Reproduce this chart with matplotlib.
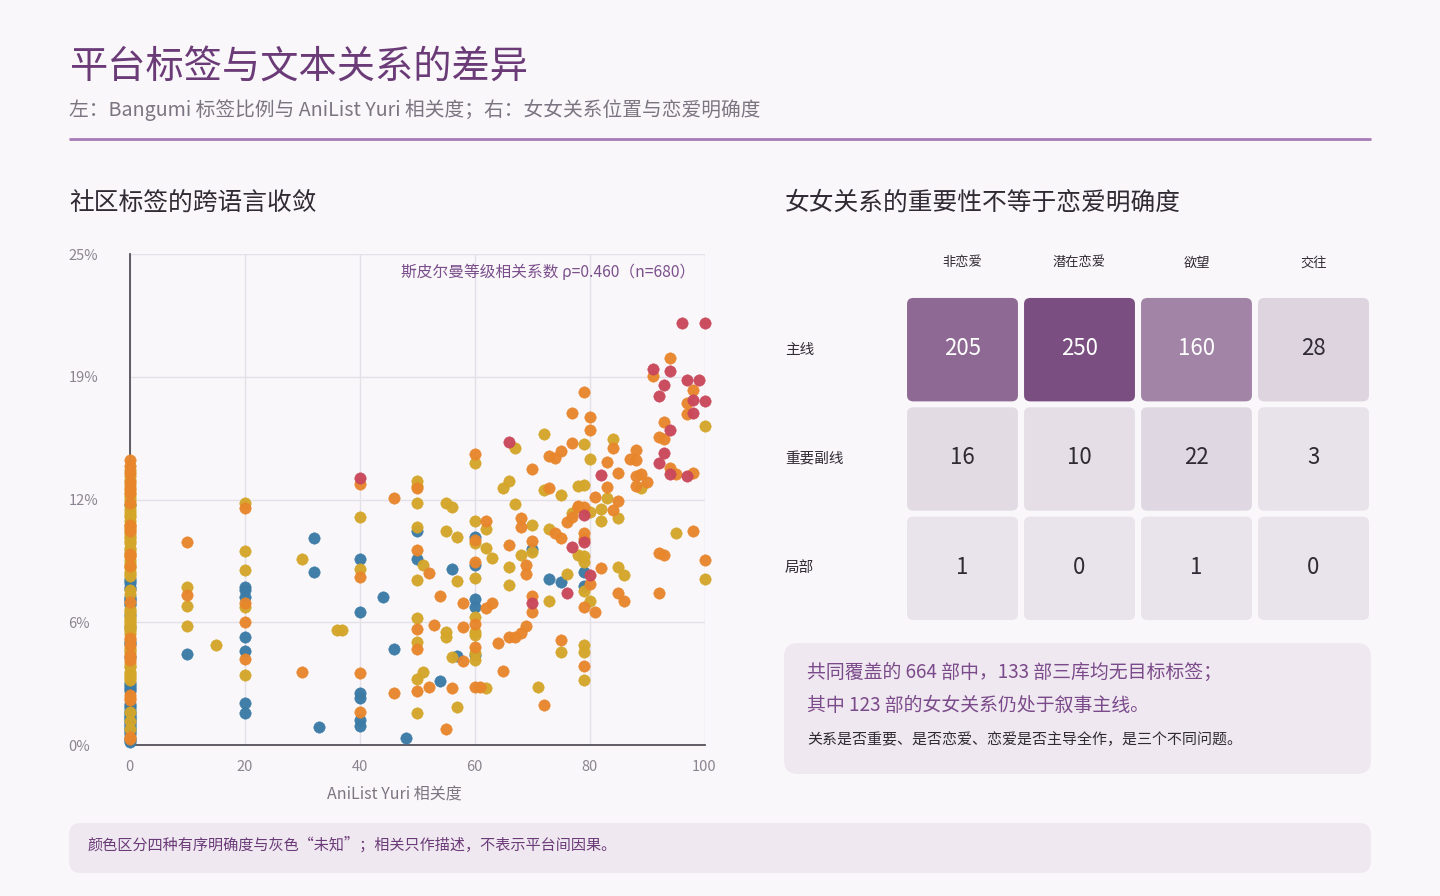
import numpy as np
import matplotlib
matplotlib.use("Agg")
import matplotlib.pyplot as plt
from matplotlib.patches import FancyBboxPatch
from matplotlib.colors import LinearSegmentedColormap, Normalize

plt.rcParams['font.family'] = ['Noto Sans CJK SC', 'DejaVu Sans']

# ---------------- data ----------------
title = "平台标签与文本关系的差异"
subtitle = "左：Bangumi 标签比例与 AniList Yuri 相关度；右：女女关系位置与恋爱明确度"
left_title = "社区标签的跨语言收敛"
right_title = "女女关系的重要性不等于恋爱明确度"
corr_text = "斯皮尔曼等级相关系数 ρ=0.460（n=680）"
x_label = "AniList Yuri 相关度"
x_ticks = [0, 20, 40, 60, 80, 100]
y_ticks = [0, 6.25, 12.5, 18.75, 25]
y_tick_labels = ["0%", "6%", "12%", "19%", "25%"]

# works with AniList relevance 0: Bangumi tag share % per clarity category
blue_zero_y = [12.2, 8.45, 8.35, 8.25, 8.05, 7.95, 7.55, 7.45, 7.4, 7.25, 7.15, 6.6, 6.0, 5.25,
               5.15, 4.5, 3.15, 3.05, 2.95, 2.85, 2.75, 2.1, 2.0, 1.9, 1.75, 1.65, 1.55, 1.45,
               1.35, 1.25, 1.15, 1.05, 0.95, 0.85, 0.75, 0.65, 0.55, 0.35, 0.25, 0.15]
yellow_zero_y = [14.0, 13.7, 13.5, 13.25, 13.0, 12.8, 12.65, 12.45, 12.2, 12.0, 11.85, 11.7, 11.6,
                 11.4, 11.2, 11.0, 10.8, 10.65, 10.55, 10.4, 10.3, 10.05, 9.95, 9.8, 9.6, 9.4,
                 9.25, 9.1, 9.0, 8.8, 8.7, 8.6, 7.9, 7.7, 6.9, 6.8, 6.7, 6.5, 6.4, 6.3, 6.2, 6.1,
                 6.0, 5.9, 5.8, 5.65, 4.95, 4.85, 4.75, 4.15, 4.0, 3.95, 3.7, 3.6, 3.5, 3.4, 3.3,
                 1.7, 1.2, 0.8]
orange_zero_y = [14.5, 14.2, 13.85, 13.4, 13.1, 12.85, 12.3, 11.2, 11.1, 10.9, 9.7, 9.6, 9.1, 7.3,
                 5.45, 5.35, 5.1, 4.6, 4.5, 4.35, 2.55, 2.4, 2.3, 0.4, 0.3]

# works with AniList relevance > 0: (relevance, Bangumi tag share %)
blue_x = [10, 20, 20, 20, 20, 20, 20, 20, 32, 32, 33, 40, 40, 40, 40, 40, 40, 44, 46, 48,
          50, 50, 54, 56, 57, 60, 60, 60, 60, 60, 70, 73, 75, 79, 79]
blue_y = [4.65, 8.06, 7.89, 7.55, 5.51, 4.80, 2.12, 1.65, 10.56, 8.81, 0.93, 9.49, 6.77, 2.63, 2.38,
          1.27, 0.98, 7.55, 4.87, 0.34, 10.91, 9.45, 3.26, 8.94, 4.53, 10.57, 9.16, 7.42, 7.04, 4.6,
          10.0, 8.45, 8.28, 8.83, 8.10]

yellow_x = [10, 10, 10, 15, 20, 20, 20, 20, 20, 30, 36, 37, 40, 40,
            50, 50, 50, 50, 50, 50, 50, 50, 50,
            51, 51, 55, 56, 55, 55, 55, 56, 57, 57, 57,
            60, 60, 60, 60, 60, 60, 60, 60, 60,
            62, 62, 62, 63, 65, 66, 66, 66, 67, 67, 68, 70, 70, 71, 72, 72, 73, 73, 75, 75,
            76, 77, 78, 78, 79, 79, 79, 79, 79, 79, 79, 79, 80, 80, 80, 82, 82, 83, 84, 85,
            85, 86, 89, 95, 100, 100]
yellow_y = [8.03, 7.08, 6.08, 5.11, 12.3, 9.86, 8.91, 7.01, 3.54, 9.45, 5.86, 5.83, 11.6, 8.96,
            13.45, 13.2, 12.34, 11.11, 8.40, 6.45, 5.23, 3.38, 1.65,
            9.15, 3.73, 12.34, 12.1, 10.91, 5.74, 5.51, 4.50, 10.6, 8.37, 1.95,
            14.34, 11.42, 10.26, 8.52, 6.50, 5.77, 5.60, 4.67, 4.33,
            11.02, 10.01, 2.89, 9.54, 13.07, 13.46, 9.08, 8.15, 15.13, 12.27, 9.67, 11.2, 9.84, 2.97,
            15.86, 12.98, 11.02, 7.35, 12.73, 4.74,
            8.70, 11.79, 13.2, 9.67, 15.33, 13.24, 9.33, 9.6, 7.86, 5.09, 4.75, 3.31, 14.56, 11.88,
            7.35, 12.04, 11.42, 12.56, 15.6, 11.58,
            9.04, 8.66, 13.07, 10.81, 16.24, 8.44]

orange_x = [10, 10, 20, 20, 20, 20, 30, 40, 40, 40, 40, 46, 46,
            50, 50, 50, 50, 50, 52, 52, 53, 54, 55, 56, 58, 58, 58,
            60, 60, 60, 60, 60, 60, 61, 62, 62, 63, 64, 65, 66, 66, 67, 68, 68, 68, 69, 69,
            69, 70, 70, 70, 70, 72, 73, 73, 74, 75, 74, 75, 75, 76, 77, 77, 77, 78, 78, 79,
            79, 79, 79, 79, 79, 80, 80, 80, 81, 81, 82, 83, 83, 84, 84, 85, 85, 85, 86, 87,
            88, 88, 88, 88, 89, 90, 91, 92, 92, 92, 93, 93, 93, 94, 94, 95, 97, 97, 98, 98,
            98, 100]
orange_y = [10.35, 7.65, 12.08, 7.21, 6.28, 4.39, 3.72, 13.3, 8.57, 3.68, 1.70, 12.56, 2.63,
            13.07, 9.93, 5.91, 4.89, 2.73, 8.77, 2.93, 6.11, 7.59, 0.80, 2.88, 7.21, 5.99, 4.29,
            14.80, 10.44, 9.33, 6.16, 5.01, 2.94, 2.93, 11.42, 6.96, 7.25, 5.18, 3.78, 10.18, 5.51,
            5.51, 11.58, 11.11, 5.68, 9.16, 8.70,
            6.07, 14.03, 10.4, 7.59, 6.79, 2.04, 13.1, 14.73, 14.59, 14.98, 10.77, 10.52, 5.35,
            11.36, 16.89, 15.36, 11.6, 12.13, 12.18, 17.98,
            12.13, 10.77, 10.5, 7.04, 4.04, 16.68, 16.04, 8.18, 12.64, 6.79, 8.99, 14.43, 13.12,
            15.1, 11.99, 13.87, 12.44, 7.72, 7.35, 14.54,
            15.0, 14.51, 13.71, 13.19, 13.8, 13.37, 18.78, 15.66, 9.76, 7.72, 16.46, 15.6, 9.67,
            19.68, 14.09, 13.8, 17.43, 16.85, 18.08, 13.87,
            10.91, 9.42]

red_x = [40, 66, 70, 76, 77, 79, 79, 80, 82, 91, 92, 92, 93, 93, 94, 94, 94, 96, 97, 97, 98, 98,
         99, 100, 100]
red_y = [13.6, 15.44, 7.25, 7.75, 10.06, 11.71, 10.35, 8.66, 13.75, 19.12, 17.77, 14.38, 18.33,
         14.86, 19.04, 16.04, 13.8, 21.47, 18.6, 13.7, 17.55, 16.9, 18.58, 17.52, 21.47]

# heatmap: relationship position x romance clarity
heat_rows = ["主线", "重要副线", "局部"]
heat_cols = ["非恋爱", "潜在恋爱", "欲望", "交往"]
heat_values = [[205, 250, 160, 28],
               [16, 10, 22, 3],
               [1, 0, 1, 0]]

note_line1 = "共同覆盖的 664 部中，133 部三库均无目标标签；"
note_line2 = "其中 123 部的女女关系仍处于叙事主线。"
note_line3 = "关系是否重要、是否恋爱、恋爱是否主导全作，是三个不同问题。"
footer = "颜色区分四种有序明确度与灰色“未知”；相关只作描述，不表示平台间因果。"

# ---------------- style ----------------
BG = "#F9F7FA"
PURPLE = "#6B3B78"
GREY = "#7B7582"
DARK = "#2F2A33"
BOX = "#EFE8F0"
C_BLUE = "#3B7BA6"
C_YELLOW = "#D4A62A"
C_ORANGE = "#E8862C"
C_RED = "#C9485B"

W, H = 1440, 896
fig = plt.figure(figsize=(14.4, 8.96), dpi=100, facecolor=BG)

# background / layout layer in pixel coordinates
bg = fig.add_axes([0, 0, 1, 1])
bg.set_xlim(0, W)
bg.set_ylim(H, 0)
bg.axis("off")
bg.set_zorder(-5)

bg.text(69, 67, title, fontsize=27.5, color=PURPLE, va="center", ha="left")
bg.text(69, 110, subtitle, fontsize=14.2, color=GREY, va="center", ha="left")
bg.plot([69, 1371], [139, 139], color="#A77BB5", lw=2, solid_capstyle="butt")
bg.text(69, 203, left_title, fontsize=17.8, color=DARK, va="center", ha="left")
bg.text(785, 203, right_title, fontsize=17.8, color=DARK, va="center", ha="left")

bg.add_patch(FancyBboxPatch((784, 643), 1371 - 784, 774 - 643,
                            boxstyle="round,pad=0,rounding_size=14", fc=BOX, ec="none"))
bg.text(807, 672, note_line1, fontsize=13.6, color="#7B4A8A", va="center", ha="left")
bg.text(807, 705, note_line2, fontsize=13.6, color="#7B4A8A", va="center", ha="left")
bg.text(807, 740, note_line3, fontsize=10.8, color=DARK, va="center", ha="left")

bg.add_patch(FancyBboxPatch((69, 823), 1371 - 69, 873 - 823,
                            boxstyle="round,pad=0,rounding_size=12", fc=BOX, ec="none"))
bg.text(88, 845, footer, fontsize=10.9, color="#6B3B78", va="center", ha="left")

# ---------------- scatter ----------------
ax = fig.add_axes([129.5 / W, 1 - 745 / H, 575 / W, 491 / H])
ax.set_facecolor("none")
ax.set_xlim(0, 100)
ax.set_ylim(0, 25)
ax.set_xticks(x_ticks)
ax.set_xticklabels([str(t) for t in x_ticks])
ax.set_yticks(y_ticks)
ax.set_yticklabels(y_tick_labels)
ax.grid(True, color="#E4E0E8", lw=1)
ax.set_axisbelow(True)
for s in ["top", "right"]:
    ax.spines[s].set_visible(False)
for s in ["left", "bottom"]:
    ax.spines[s].set_color("#55505A")
    ax.spines[s].set_linewidth(1.3)
ax.tick_params(axis="both", length=0, labelsize=10.5, labelcolor="#8A8590")
ax.tick_params(axis="x", pad=11)
ax.tick_params(axis="y", pad=44)
for lab in ax.get_yticklabels():
    lab.set_horizontalalignment("left")
ax.set_xlabel(x_label, fontsize=11.5, color=GREY)
ax.xaxis.set_label_coords((394 - 129.5) / 575, -(786 - 745) / 491)

series = [
    ([0] * len(blue_zero_y) + blue_x, blue_zero_y + blue_y, C_BLUE),
    ([0] * len(yellow_zero_y) + yellow_x, yellow_zero_y + yellow_y, C_YELLOW),
    ([0] * len(orange_zero_y) + orange_x, orange_zero_y + orange_y, C_ORANGE),
    (red_x, red_y, C_RED),
]
for xs, ys, c in series:
    ax.scatter(xs, ys, s=68, color=c, edgecolors=c, linewidths=0.3,
               alpha=0.97, clip_on=False, zorder=3)

ax.text((695 - 129.5) / 575, (745 - 272) / 491, corr_text, transform=ax.transAxes,
        ha="right", va="center", fontsize=11.3, color="#7B4F8C")

# ---------------- heatmap ----------------
hx0, hx1 = 904, 1372
hy0, hy1 = 295, 623
hax = fig.add_axes([hx0 / W, 1 - hy1 / H, (hx1 - hx0) / W, (hy1 - hy0) / H])
hax.set_xlim(0, len(heat_cols))
hax.set_ylim(len(heat_rows), 0)
hax.axis("off")
hax.set_facecolor("none")

cmap = LinearSegmentedColormap.from_list("pur", ["#E9E4EB", "#7A4E80"])
vals = np.array(heat_values)
norm = Normalize(vmin=0, vmax=vals.max())
gx, gy = 0.026, 0.027
for i, rname in enumerate(heat_rows):
    for j, cname in enumerate(heat_cols):
        v = vals[i, j]
        hax.add_patch(FancyBboxPatch((j + gx, i + gy), 1 - 2 * gx, 1 - 2 * gy,
                                     boxstyle="round,pad=0,rounding_size=0.055",
                                     fc=cmap(norm(v)), ec="none"))
        hax.text(j + 0.5, i + 0.49, str(v), ha="center", va="center", fontsize=16,
                 color="white" if v > 100 else DARK)
for j, cname in enumerate(heat_cols):
    hax.text(j + 0.5, -(298 - 266) / 109.3, cname, ha="center", va="center",
             fontsize=9.5, color=DARK, clip_on=False)
for i, rname in enumerate(heat_rows):
    hax.text(-(904 - 785) / 117, i + 0.5, rname, ha="left", va="center",
             fontsize=10.5, color=DARK, clip_on=False)

fig.savefig("out.png", dpi=100, facecolor=BG)
